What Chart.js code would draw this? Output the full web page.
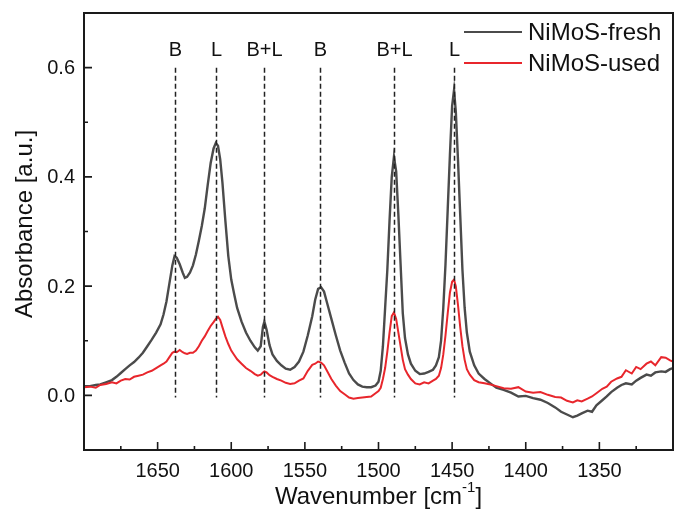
<!DOCTYPE html>
<html>
<head>
<meta charset="utf-8">
<title>NiMoS IR spectra</title>
<script src="https://cdn.jsdelivr.net/npm/chart.js@4/dist/chart.umd.min.js"></script>
<style>
  html, body { margin: 0; padding: 0; background: #fff; }
  #myChart { display: block; }
</style>
</head>
<body>
<canvas id="myChart" width="675" height="511"></canvas>
<script>
'use strict';

// wavenumber grid shared by both spectra (cm-1)
const wavenumber = [
  1700, 1696, 1692, 1689, 1685, 1681, 1678, 1675, 1672, 1669,
  1666, 1663, 1660, 1657, 1654, 1651, 1648, 1646, 1644, 1642,
  1640, 1638.5, 1637, 1635, 1633, 1631.5, 1630, 1628, 1626, 1624,
  1622, 1620, 1618, 1616, 1614, 1612, 1610.5, 1609, 1607.5, 1606,
  1604, 1602, 1600, 1598, 1596, 1593, 1590, 1587, 1584, 1582,
  1580, 1578.5, 1577.5, 1576, 1574, 1572, 1569, 1566, 1563, 1560,
  1557, 1554, 1551, 1548, 1545, 1543, 1541, 1539, 1537, 1535,
  1532, 1529, 1526, 1523, 1520, 1517, 1514, 1511, 1508, 1505,
  1502, 1500, 1498.5, 1497, 1495.5, 1494, 1492.5, 1491, 1489.5, 1488,
  1486.5, 1485, 1483.5, 1482, 1480, 1478, 1475, 1472, 1469, 1466,
  1463, 1461, 1459, 1457.5, 1456, 1454.5, 1453, 1451.5, 1450, 1448.7,
  1447.5, 1446, 1444.5, 1443, 1441.5, 1440, 1438, 1435, 1432, 1428,
  1424, 1420, 1415, 1410, 1405, 1400, 1395, 1390, 1385, 1380,
  1376, 1372, 1368, 1365, 1362, 1358, 1355, 1352, 1348, 1345,
  1342, 1338, 1335, 1332, 1328, 1325, 1322, 1318, 1315, 1312,
  1308, 1305, 1302, 1300
];

const fresh = [
  0.017, 0.017, 0.019, 0.02, 0.024, 0.028, 0.034, 0.041, 0.048, 0.055,
  0.061, 0.069, 0.078, 0.09, 0.102, 0.115, 0.13, 0.148, 0.172, 0.205,
  0.238, 0.255, 0.252, 0.24, 0.225, 0.215, 0.217, 0.225, 0.238, 0.258,
  0.283, 0.31, 0.342, 0.385, 0.425, 0.452, 0.462, 0.457, 0.432, 0.39,
  0.32, 0.255, 0.212, 0.185, 0.16, 0.135, 0.115, 0.1, 0.088, 0.082,
  0.09, 0.125, 0.135, 0.12, 0.092, 0.075, 0.063, 0.055, 0.049, 0.047,
  0.052, 0.062, 0.08, 0.11, 0.145, 0.175, 0.195, 0.198, 0.19, 0.17,
  0.14, 0.11, 0.082, 0.06, 0.04, 0.028, 0.02, 0.016, 0.015, 0.015,
  0.018, 0.025, 0.045, 0.09, 0.16, 0.23, 0.32, 0.4, 0.437, 0.41,
  0.33, 0.24, 0.15, 0.105, 0.075, 0.058, 0.045, 0.039, 0.04, 0.043,
  0.047, 0.055, 0.07, 0.1, 0.16, 0.24, 0.34, 0.44, 0.53, 0.559,
  0.52, 0.43, 0.33, 0.23, 0.16, 0.115, 0.08, 0.055, 0.04, 0.03,
  0.022, 0.014, 0.01, 0.005, -0.002, -0.001, -0.005, -0.008, -0.014, -0.022,
  -0.03, -0.035, -0.04, -0.037, -0.033, -0.028, -0.03, -0.018, -0.009, -0.002,
  0.006, 0.014, 0.019, 0.022, 0.02, 0.027, 0.032, 0.038, 0.036, 0.042,
  0.044, 0.043, 0.048, 0.05
];

const used = [
  0.015, 0.016, 0.014, 0.019, 0.021, 0.024, 0.022, 0.027, 0.03, 0.029,
  0.034, 0.036, 0.038, 0.042, 0.045, 0.05, 0.055, 0.058, 0.062, 0.07,
  0.078, 0.08, 0.079, 0.083, 0.079, 0.077, 0.076, 0.078, 0.078, 0.082,
  0.09, 0.1, 0.108, 0.118, 0.127, 0.134, 0.14, 0.144, 0.138, 0.125,
  0.108, 0.094, 0.082, 0.074, 0.066, 0.058, 0.05, 0.045, 0.039, 0.036,
  0.038, 0.042, 0.044, 0.042, 0.037, 0.034, 0.03, 0.027, 0.023, 0.021,
  0.022, 0.027, 0.031, 0.045, 0.056, 0.058, 0.062, 0.06, 0.055, 0.045,
  0.03, 0.018, 0.008, 0.002, -0.004, -0.006, -0.005, -0.004, -0.003, -0.002,
  0.004, 0.008, 0.014, 0.03, 0.05, 0.08, 0.115, 0.145, 0.152, 0.14,
  0.115, 0.09, 0.065, 0.048, 0.038, 0.03, 0.022, 0.02, 0.024, 0.022,
  0.027, 0.03, 0.036, 0.05, 0.075, 0.11, 0.15, 0.188, 0.208, 0.212,
  0.2, 0.165, 0.125, 0.09, 0.065, 0.048, 0.038, 0.028, 0.024, 0.022,
  0.02, 0.017, 0.013, 0.012, 0.015, 0.007, 0.005, 0.006, 0.001, -0.003,
  -0.004, -0.01, -0.013, -0.009, -0.011, -0.006, -0.002, 0.004, 0.012, 0.016,
  0.025, 0.031, 0.034, 0.046, 0.04, 0.052, 0.048, 0.058, 0.062, 0.055,
  0.07, 0.069, 0.064, 0.062
];

// band positions marked with dashed lines
const peakWn = [1638.5, 1610.5, 1578, 1540, 1489.5, 1449];
const peakLabels = ['B', 'L', 'B+L', 'B', 'B+L', 'L'];

const xTicks = [1650, 1600, 1550, 1500, 1450, 1400, 1350];
const xMinor = [1675, 1625, 1575, 1525, 1475, 1425, 1375, 1325];
const yTicks = [0.0, 0.2, 0.4, 0.6];
const yMinor = [0.1, 0.3, 0.5];

const seriesNames = ['NiMoS-fresh', 'NiMoS-used'];
const seriesColors = ['#4b4b4b', '#e8262c'];

const FONT = '"Liberation Sans", Arial, sans-serif';

function toPoints( ys ) {
  let pts = [];
  for ( let i = 0; i < wavenumber.length; i++ ) {
    pts.push( { x: wavenumber[i], y: ys[i] } );
  }
  return pts;
}

// frame, inward ticks, tick labels, band markers, legend and axis titles
const decorations = {
  id: 'decorations',
  afterDatasetsDraw( chart ) {
    const ctx = chart.ctx;
    const area = chart.chartArea;
    const xs = chart.scales.x;
    const ys = chart.scales.y;

    ctx.save();
    // dashed band lines
    ctx.strokeStyle = '#222';
    ctx.lineWidth = 1.5;
    ctx.setLineDash( [5, 3] );
    ctx.fillStyle = '#111';
    ctx.font = '20px ' + FONT;
    ctx.textAlign = 'center';
    ctx.textBaseline = 'middle';
    for ( let i = 0; i < peakWn.length; i++ ) {
      const px = Math.round( xs.getPixelForValue( peakWn[i] ) ) + 0.5;
      ctx.beginPath();
      ctx.moveTo( px, ys.getPixelForValue( 0.6 ) );
      ctx.lineTo( px, ys.getPixelForValue( -0.004 ) );
      ctx.stroke();
      ctx.fillText( peakLabels[i], px, ys.getPixelForValue( 0.632 ) );
    }
    ctx.setLineDash( [] );

    // frame
    ctx.strokeStyle = '#1a1a1a';
    ctx.lineWidth = 2;
    ctx.strokeRect( area.left, area.top, area.right - area.left, area.bottom - area.top );

    // inward ticks
    ctx.lineWidth = 1.6;
    ctx.beginPath();
    xTicks.forEach( v => {
      const px = xs.getPixelForValue( v );
      ctx.moveTo( px, area.bottom );
      ctx.lineTo( px, area.bottom - 8 );
    } );
    xMinor.forEach( v => {
      const px = xs.getPixelForValue( v );
      ctx.moveTo( px, area.bottom );
      ctx.lineTo( px, area.bottom - 4 );
    } );
    yTicks.forEach( v => {
      const py = ys.getPixelForValue( v );
      ctx.moveTo( area.left, py );
      ctx.lineTo( area.left + 8, py );
    } );
    yMinor.forEach( v => {
      const py = ys.getPixelForValue( v );
      ctx.moveTo( area.left, py );
      ctx.lineTo( area.left + 4, py );
    } );
    ctx.stroke();

    // tick labels
    ctx.fillStyle = '#111';
    ctx.font = '20px ' + FONT;
    ctx.textBaseline = 'middle';
    ctx.textAlign = 'center';
    xTicks.forEach( v => {
      ctx.fillText( String( v ), xs.getPixelForValue( v ), 471 );
    } );
    ctx.textAlign = 'right';
    yTicks.forEach( v => {
      ctx.fillText( v.toFixed( 1 ), 75, ys.getPixelForValue( v ) + 1 );
    } );

    // legend
    ctx.font = '24px ' + FONT;
    ctx.textAlign = 'left';
    const legendY = [32, 63];
    for ( let i = 0; i < seriesNames.length; i++ ) {
      ctx.strokeStyle = seriesColors[i];
      ctx.lineWidth = 2;
      ctx.beginPath();
      ctx.moveTo( 464, legendY[i] );
      ctx.lineTo( 522, legendY[i] );
      ctx.stroke();
      ctx.fillText( seriesNames[i], 528, legendY[i] + 1 );
    }

    // x title with superscript
    const cx = ( area.left + area.right ) / 2;
    const ty = 497;
    ctx.font = '24px ' + FONT;
    const main = 'Wavenumber [cm';
    const wMain = ctx.measureText( main ).width;
    const wClose = ctx.measureText( ']' ).width;
    ctx.font = '15px ' + FONT;
    const wSup = ctx.measureText( '-1' ).width;
    let sx = cx - ( wMain + wSup + wClose ) / 2;
    ctx.font = '24px ' + FONT;
    ctx.fillText( main, sx, ty );
    ctx.font = '15px ' + FONT;
    ctx.fillText( '-1', sx + wMain, ty - 9 );
    ctx.font = '24px ' + FONT;
    ctx.fillText( ']', sx + wMain + wSup, ty );

    // y title
    ctx.translate( 25, 224 );
    ctx.rotate( -Math.PI / 2 );
    ctx.textAlign = 'center';
    ctx.fillText( 'Absorbance [a.u.]', 0, 0 );
    ctx.restore();
  }
};

let ctx = document.getElementById( 'myChart' ).getContext( '2d' );
let myChart = new Chart( ctx, {
  type: 'line',
  data: {
    datasets: [{
      label: seriesNames[0],
      data: toPoints( fresh ),
      borderColor: seriesColors[0],
      borderWidth: 2.4,
      pointRadius: 0,
      tension: 0,
      order: 1
    }, {
      label: seriesNames[1],
      data: toPoints( used ),
      borderColor: seriesColors[1],
      borderWidth: 2,
      pointRadius: 0,
      tension: 0,
      order: 0
    }]
  },
  options: {
    responsive: false,
    animation: false,
    layout: { padding: { top: 13, right: 2, left: 0, bottom: 0 } },
    plugins: {
      legend: { display: false },
      tooltip: { enabled: false }
    },
    scales: {
      x: {
        type: 'linear',
        reverse: true,
        min: 1300,
        max: 1700,
        grid: { display: false, drawTicks: false },
        border: { display: false },
        ticks: { display: false },
        afterFit: ( scale ) => { scale.height = 61; }
      },
      y: {
        type: 'linear',
        min: -0.1,
        max: 0.7,
        grid: { display: false, drawTicks: false },
        border: { display: false },
        ticks: { display: false },
        afterFit: ( scale ) => { scale.width = 84; }
      }
    }
  },
  plugins: [decorations]
} );
</script>
</body>
</html>
